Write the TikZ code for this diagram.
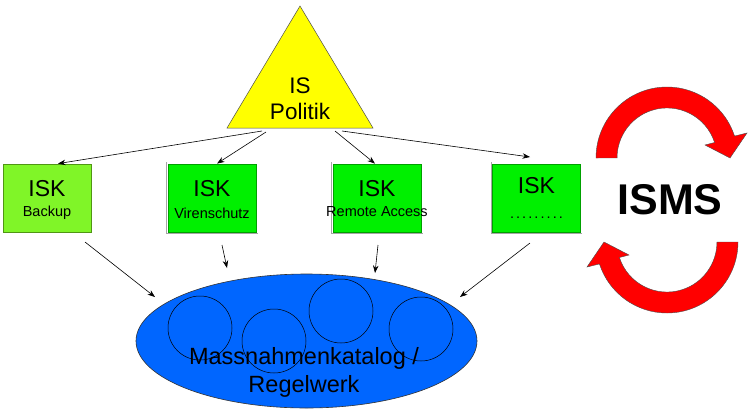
\documentclass[tikz,border=0pt]{standalone}
\usepackage{fontspec}
\setmainfont{Liberation Sans}
\usetikzlibrary{arrows.meta}
\definecolor{boxlight}{RGB}{128,245,40}
\definecolor{boxlightline}{RGB}{80,150,20}
\definecolor{boxgreen}{RGB}{0,240,0}
\definecolor{boxgreenline}{RGB}{0,160,0}
\definecolor{ellblue}{RGB}{0,102,255}
\definecolor{trifill}{RGB}{255,255,0}
\tikzset{
  isk/.style={draw=boxgreenline, fill=boxgreen, line width=0.8pt, minimum width=88pt, minimum height=68pt, inner sep=0pt},
  conn/.style={-{Stealth[length=7.5pt,width=5.5pt]}, line width=0.6pt},
  ring/.style={draw=black, line width=0.5pt},
  bigtxt/.style={font=\fontsize{23}{26}\selectfont},
  smalltxt/.style={font=\fontsize{14.5}{16}\selectfont},
  cyclearrow/.style={fill=red, draw=black!70, line width=0.4pt}
}
\begin{document}
\begin{tikzpicture}[x=1pt,y=-1pt]
\useasboundingbox (0,0) rectangle (753,416);
% triangle
\draw[fill=trifill, draw=black!70, line width=0.5pt] (300,6) -- (373,128) -- (227,128) -- cycle;
\node[bigtxt, align=center, font=\fontsize{22.5}{26}\selectfont] (istxt) at (300,99) {IS\\Politik};
\coordinate (t1) at (262,131);
\coordinate (t2) at (266,132);
\coordinate (t3) at (335,131);
\coordinate (t4) at (342,131);
% boxes
\node[isk, fill=boxlight, draw=boxlightline] (b1) at (47,198) {};
\node[isk] (b2) at (212,198) {};
\node[isk] (b3) at (377,198) {};
\node[isk] (b4) at (536.5,198) {};
\foreach \b in {b2,b3,b4} {\draw[black!35, line width=0.8pt] ([xshift=-1.2pt,yshift=1.2pt]\b.north west) -- ([xshift=-1.2pt,yshift=-1.2pt]\b.south west) -- ([xshift=1.2pt,yshift=-1.2pt]\b.south east);}
\node[bigtxt] (k1) at (47,189) {ISK};
\node[smalltxt] (s1) at (47,213) {Backup};
\node[bigtxt] (k2) at (212,189) {ISK};
\node[smalltxt] (s2) at (212,213) {Virenschutz};
\node[bigtxt] (k3) at (377,189) {ISK};
\node[smalltxt] (s3) at (377,212) {Remote Access};
\node[bigtxt] (k4) at (536.5,186) {ISK};
\node[smalltxt] (s4) at (536.5,218) {\makebox[55pt]{\leaders\hbox to 6.1pt{\hss.\hss}\hfill}};
% arrows from triangle
\draw[conn] (t1) -- ([xshift=11pt]b1.north);
\draw[conn] (t2) -- ([xshift=5pt]b2.north);
\draw[conn] (t3) -- ([xshift=-2pt]b3.north);
\draw[conn] (t4) -- (530,157);
% ellipse
\draw[fill=ellblue, draw=black!80, line width=0.6pt] (306.5,341) ellipse [x radius=170.5, y radius=67];
\node[ring, circle, minimum size=64pt, inner sep=0pt] (c1) at (200,328) {};
\node[ring, circle, minimum size=64pt, inner sep=0pt] (c2) at (274,341) {};
\node[ring, circle, minimum size=64pt, inner sep=0pt] (c3) at (341,311) {};
\node[ring, circle, minimum size=64pt, inner sep=0pt] (c4) at (421,329) {};
\node[bigtxt, align=center, font=\fontsize{23.5}{28}\selectfont] (mk) at (304,372) {Massnahmenkatalog /\\Regelwerk};
\coordinate (e1) at (155,297);
\coordinate (e2) at (227,268);
\coordinate (e3) at (375,273);
\coordinate (e4) at (460,297);
% arrows to ellipse
\draw[conn] (85,242) -- (e1);
\draw[conn] (222,245) -- (e2);
\draw[conn] (378,245) -- (e3);
\draw[conn] (530,243) -- (e4);
% ISMS
\node[font=\bfseries\fontsize{43}{48}\selectfont] (isms) at (670,200) {ISMS};
\def\cyc{(596,158) arc[start angle=180, end angle=342, radius=71] -- (747,133) -- (730,158) -- (705,145) -- (714.6,142.5) arc[start angle=342, end angle=180, radius=50] -- cycle}
\draw[cyclearrow] \cyc;
\draw[cyclearrow, rotate around={180:(667,200)}] \cyc;
\end{tikzpicture}
\end{document}
